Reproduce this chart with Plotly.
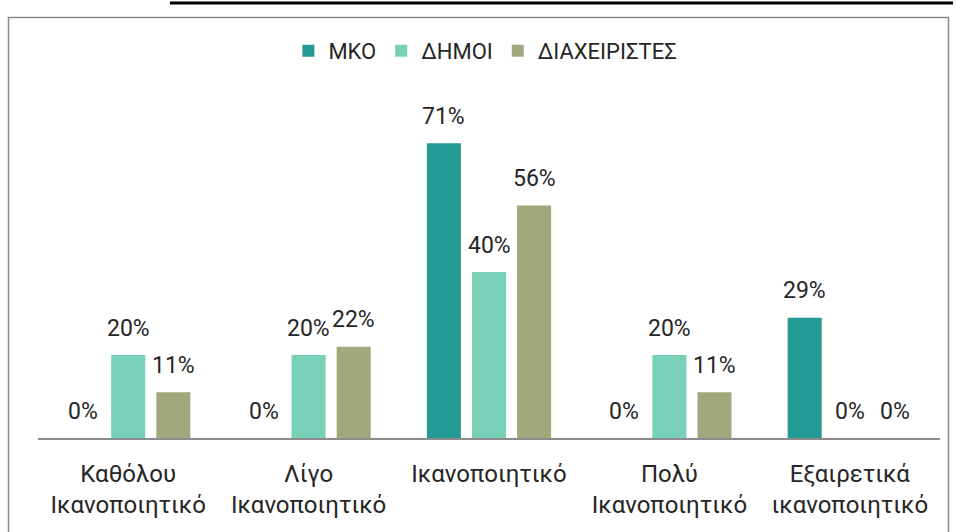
import plotly.graph_objects as go

categories = ["Καθόλου<br>Ικανοποιητικό", "Λίγο<br>Ικανοποιητικό", "Ικανοποιητικό",
              "Πολύ<br>Ικανοποιητικό", "Εξαιρετικά<br>ικανοποιητικό"]
series_names = ["ΜΚΟ", "ΔΗΜΟΙ", "ΔΙΑΧΕΙΡΙΣΤΕΣ"]
mko = [0.00, 0.00, 0.71, 0.00, 0.29]
dimoi = [0.20, 0.20, 0.40, 0.20, 0.00]
diax = [0.11, 0.22, 0.56, 0.11, 0.00]
colors = ["#239A93", "#78D0B6", "#A2A87E"]

FONT = "Roboto"
TXT = "#262626"

W, H = 956, 532
ML, MR, MT, MB = 38, 16, 106, 94
PW = W - ML - MR
PH = H - MT - MB

fig = go.Figure()
all_vals = [mko, dimoi, diax]
for name, vals, col in zip(series_names, all_vals, colors):
    fig.add_trace(go.Bar(
        x=categories, y=vals, name=name,
        marker=dict(color=col, line=dict(width=0)),
    ))

# value labels as annotations placed over each bar
slot = PW / len(categories) * (1 - 0.25) / 3
for si, vals in enumerate(all_vals):
    for c, v in zip(categories, vals):
        fig.add_annotation(
            x=c, y=v, xref="x", yref="y",
            text=f"{round(v*100)}%", showarrow=False,
            xshift=(si - 1) * slot, yshift=27, yanchor="middle",
            font=dict(family=FONT, size=23, color=TXT),
        )

def px_to_paper_x(px):
    return (px - ML) / PW

def px_to_paper_y(py):
    return (H - MB - py) / PH

# outer chart frame
fig.add_shape(type="rect", xref="paper", yref="paper",
              x0=px_to_paper_x(8.5), x1=px_to_paper_x(948.5),
              y0=px_to_paper_y(560), y1=px_to_paper_y(17.5),
              line=dict(color="#8A8A8A", width=1.5), layer="below")
# top black rule
fig.add_shape(type="line", xref="paper", yref="paper",
              x0=px_to_paper_x(170), x1=px_to_paper_x(953),
              y0=px_to_paper_y(3), y1=px_to_paper_y(3),
              line=dict(color="black", width=3))

fig.update_layout(
    width=W, height=H,
    margin=dict(l=ML, r=MR, t=MT, b=MB, autoexpand=False),
    paper_bgcolor="white", plot_bgcolor="white",
    barmode="group", bargap=0.25, bargroupgap=0.245,
    font=dict(family=FONT, size=20, color=TXT),
    showlegend=True,
    legend=dict(orientation="h", x=0.496, xanchor="center",
                y=px_to_paper_y(51), yanchor="middle",
                font=dict(family=FONT, size=22, color=TXT),
                itemclick=False, traceorder="normal"),
    xaxis=dict(showline=True, linecolor="#8C8C8C", linewidth=1.5,
               showgrid=False, ticks="", ticklabelstandoff=13,
               tickfont=dict(family=FONT, size=24, color=TXT), fixedrange=True),
    yaxis=dict(range=[0, 0.8], visible=False, showgrid=False, fixedrange=True),
)

fig.write_html("out.html", config={"displayModeBar": False},
               post_script="document.body.style.margin='0';document.body.style.overflow='hidden';")
